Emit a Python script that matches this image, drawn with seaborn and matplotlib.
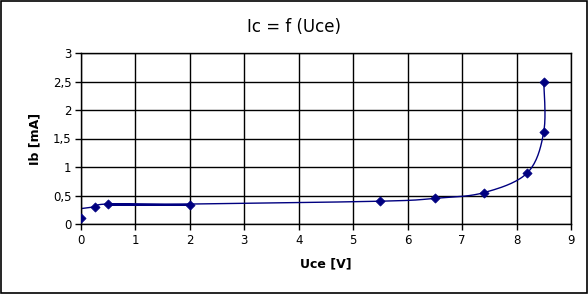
import numpy as np
import pandas as pd
import matplotlib
matplotlib.use("Agg")
import matplotlib.pyplot as plt
import seaborn as sns
from matplotlib.ticker import FuncFormatter, MultipleLocator

# measured points (markers)
uce = [0.0, 0.25, 0.5, 2.0, 5.5, 6.5, 7.4, 8.2, 8.5, 8.5]
ib = [0.10, 0.30, 0.35, 0.33, 0.40, 0.45, 0.55, 0.90, 1.62, 2.50]

# drawn (smoothed) trend line
line_u = [0.0, 0.25, 0.5, 2.0, 0.5, 2.0, 0.5, 2.0, 5.5, 6.5, 7.4, 8.2, 8.5, 8.5]
line_i = [0.27, 0.30, 0.35, 0.33, 0.345, 0.34, 0.335, 0.35, 0.40, 0.45, 0.55, 0.90, 1.62, 2.50]

title = "Ic = f (Uce)"
xlabel = "Uce [V]"
ylabel = "Ib [mA]"


def catmull_rom(xs, ys, n=20):
    P = np.column_stack([xs, ys]).astype(float)
    P = np.vstack([P[0], P, P[-1]])
    out = []
    for i in range(1, len(P) - 2):
        p0, p1, p2, p3 = P[i - 1], P[i], P[i + 1], P[i + 2]
        t = np.linspace(0, 1, n)[:, None]
        seg = 0.5 * ((2 * p1) + (-p0 + p2) * t + (2 * p0 - 5 * p1 + 4 * p2 - p3) * t ** 2
                     + (-p0 + 3 * p1 - 3 * p2 + p3) * t ** 3)
        out.append(seg)
    S = np.vstack(out)
    return S[:, 0], S[:, 1]


sx, sy = catmull_rom(line_u, line_i)
curve = pd.DataFrame({"u": sx, "i": sy, "k": np.arange(len(sx))})
pts = pd.DataFrame({"u": uce, "i": ib})

sns.set_style("white")
plt.rcParams["font.family"] = ["DejaVu Sans"]
plt.rcParams["text.color"] = "black"
plt.rcParams["axes.labelcolor"] = "black"
plt.rcParams["xtick.color"] = "black"
plt.rcParams["ytick.color"] = "black"

fig = plt.figure(figsize=(5.88, 2.94), dpi=100)
ax = fig.add_axes([81 / 588, 1 - 224 / 294, 490 / 588, 171 / 294])

navy = "#000080"
sns.lineplot(data=curve, x="u", y="i", sort=False, estimator=None, color=navy,
             lw=1.0, ax=ax)
sns.scatterplot(data=pts, x="u", y="i", marker="D", s=22, color=navy,
                edgecolor=navy, linewidth=0.5, ax=ax, zorder=5)

ax.set_xlim(0, 9)
ax.set_ylim(0, 3)
ax.xaxis.set_major_locator(MultipleLocator(1))
ax.yaxis.set_major_locator(MultipleLocator(0.5))
ax.yaxis.set_major_formatter(FuncFormatter(lambda v, p: f"{v:g}".replace(".", ",")))
ax.grid(True, color="black", lw=1.0)
ax.set_axisbelow(True)
for s in ax.spines.values():
    s.set_color("black")
    s.set_linewidth(1.0)
ax.tick_params(axis="both", direction="out", length=4, width=1, color="black",
               labelcolor="black", labelsize=8.5, pad=3, left=True, bottom=True)

ax.set_xlabel(xlabel, fontsize=9, fontweight="bold", labelpad=8, color="black")
ax.set_ylabel(ylabel, fontsize=9, fontweight="bold", labelpad=8, color="black")
fig.text(0.5, 1 - 27 / 294, title, ha="center", va="center", fontsize=12, color="black")

fig.patches.append(matplotlib.patches.Rectangle((0.0015, 0.003), 0.997, 0.994,
                                                transform=fig.transFigure,
                                                fill=False, edgecolor="black", lw=1.2))
fig.savefig("out.png", dpi=100)
